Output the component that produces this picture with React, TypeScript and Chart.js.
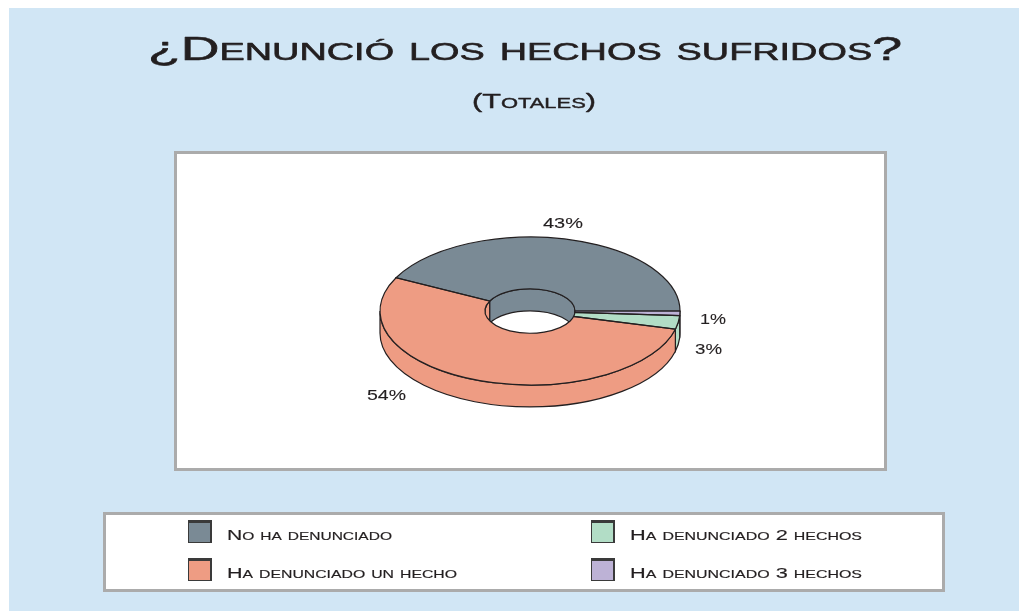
import React, { useEffect, useRef } from "react";
import { Chart, registerables } from "chart.js";

Chart.register(...registerables);

const categories = [
  "No ha denunciado",
  "Ha denunciado un hecho",
  "Ha denunciado 2 hechos",
  "Ha denunciado 3 hechos",
];
const values = [43, 54, 3, 1];
const colors = ["#7A8A95", "#EE9C83", "#B2DDC6", "#BDB2D6"];
const titleText = "¿Denunció los hechos sufridos?";
const subtitleText = "(Totales)";

const INK = "#231F20";
const SQUASH = 0.493;
const DEPTH = 22;
const FONT = '"Liberation Sans"';

type Txt = { left: number; base: number; size: number; width: number; bold?: number };
const TITLE_BOX: Txt = { left: 148, base: 60, size: 34, width: 754, bold: 0.6 };
const SUB_BOX: Txt = { left: 472, base: 108, size: 21, width: 124, bold: 0.4 };
const VALUE_BOXES: Txt[] = [
  { left: 543, base: 228, size: 15, width: 40, bold: 0.1 },
  { left: 367, base: 400, size: 15, width: 39, bold: 0.1 },
  { left: 695, base: 354, size: 15, width: 27, bold: 0.1 },
  { left: 700, base: 324, size: 15, width: 26, bold: 0.1 },
];
const LEGEND_X = [188, 188, 591, 591];
const LEGEND_Y = [520, 558, 520, 558];
const LEGEND_TEXT: Txt[] = [
  { left: 227, base: 540, size: 15, width: 165, bold: 0.15 },
  { left: 227, base: 578, size: 15, width: 230, bold: 0.15 },
  { left: 630, base: 540, size: 15, width: 232, bold: 0.15 },
  { left: 630, base: 578, size: 15, width: 232, bold: 0.15 },
];

function drawText(ctx: CanvasRenderingContext2D, text: string, b: Txt) {
  ctx.save();
  ctx.font = `small-caps 400 ${b.size}px ${FONT}`;
  ctx.fillStyle = INK;
  ctx.strokeStyle = INK;
  ctx.lineJoin = "round";
  ctx.textAlign = "left";
  ctx.textBaseline = "alphabetic";
  const w = ctx.measureText(text).width;
  ctx.translate(b.left, b.base);
  ctx.scale(b.width / w, 1);
  ctx.fillText(text, 0, 0);
  if (b.bold) {
    ctx.lineWidth = b.bold;
    ctx.strokeText(text, 0, 0);
  }
  ctx.restore();
}

function panel(ctx: CanvasRenderingContext2D, x0: number, y0: number, x1: number, y1: number) {
  ctx.fillStyle = "#FFFFFF";
  ctx.fillRect(x0, y0, x1 - x0, y1 - y0);
  ctx.strokeStyle = "#ABABAB";
  ctx.lineWidth = 3;
  ctx.strokeRect(x0 + 1.5, y0 + 1.5, x1 - x0 - 3, y1 - y0 - 3);
}

const scene = {
  id: "scene",
  beforeDraw(chart: any) {
    const ctx: CanvasRenderingContext2D = chart.ctx;
    ctx.save();
    ctx.fillStyle = "#FFFFFF";
    ctx.fillRect(0, 0, chart.width, chart.height);
    ctx.fillStyle = "#D1E6F5";
    ctx.fillRect(9, 8, 1010, 603);
    panel(ctx, 174, 151, 887, 471);
    panel(ctx, 103, 512, 945, 592);
    ctx.restore();
  },
  beforeDatasetsDraw(chart: any) {
    const ctx: CanvasRenderingContext2D = chart.ctx;
    const arcs = chart.getDatasetMeta(0).data;
    ctx.save();
    ctx.strokeStyle = INK;
    ctx.lineWidth = 1.2;
    arcs.forEach((arc: any, i: number) => {
      const { x, y, startAngle, endAngle, outerRadius, innerRadius } = arc;
      const color = chart.data.datasets[0].backgroundColor[i];
      const a = Math.max(startAngle, 0);
      const b = Math.min(endAngle, Math.PI);
      if (b > a) {
        ctx.beginPath();
        ctx.ellipse(x, y, outerRadius, outerRadius * SQUASH, 0, a, b, false);
        ctx.ellipse(x, y + DEPTH, outerRadius, outerRadius * SQUASH, 0, b, a, true);
        ctx.closePath();
        ctx.fillStyle = color;
        ctx.fill();
        ctx.stroke();
      }
      const c = Math.max(startAngle, Math.PI);
      const d = Math.min(endAngle, 2 * Math.PI);
      if (d > c) {
        ctx.beginPath();
        ctx.ellipse(x, y, innerRadius, innerRadius * SQUASH, 0, c, d, false);
        ctx.ellipse(x, y + DEPTH, innerRadius, innerRadius * SQUASH, 0, d, c, true);
        ctx.closePath();
        ctx.fillStyle = color;
        ctx.fill();
        ctx.stroke();
      }
    });
    ctx.restore();
    const first = arcs[0];
    ctx.save();
    ctx.translate(first.x, first.y);
    ctx.scale(1, SQUASH);
    ctx.translate(-first.x, -first.y);
  },
  afterDatasetsDraw(chart: any) {
    const ctx: CanvasRenderingContext2D = chart.ctx;
    ctx.restore();
    const arcs = chart.getDatasetMeta(0).data;
    ctx.save();
    ctx.strokeStyle = INK;
    ctx.lineWidth = 1.2;
    arcs.forEach((arc: any) => {
      const { x, y, startAngle, endAngle, outerRadius, innerRadius } = arc;
      ctx.beginPath();
      ctx.ellipse(x, y, outerRadius, outerRadius * SQUASH, 0, startAngle, endAngle, false);
      ctx.ellipse(x, y, innerRadius, innerRadius * SQUASH, 0, endAngle, startAngle, true);
      ctx.closePath();
      ctx.stroke();
    });
    ctx.restore();
  },
  afterDraw(chart: any) {
    const ctx: CanvasRenderingContext2D = chart.ctx;
    drawText(ctx, titleText, TITLE_BOX);
    drawText(ctx, subtitleText, SUB_BOX);
    values.forEach((v, i) => drawText(ctx, `${v}%`, VALUE_BOXES[i]));
    categories.forEach((label, i) => {
      const x = LEGEND_X[i];
      const y = LEGEND_Y[i];
      ctx.fillStyle = "#3A3A3A";
      ctx.fillRect(x, y, 24, 23);
      ctx.fillStyle = colors[i];
      ctx.fillRect(x + 1, y + 3, 21, 19);
      drawText(ctx, label, LEGEND_TEXT[i]);
    });
  },
};

export default function App() {
  const ref = useRef<HTMLCanvasElement | null>(null);
  useEffect(() => {
    if (!ref.current) return;
    const chart = new Chart(ref.current, {
      type: "doughnut",
      data: {
        labels: [...categories].reverse(),
        datasets: [
          {
            data: [...values].reverse(),
            backgroundColor: [...colors].reverse(),
            borderWidth: 0,
            clip: false,
          } as any,
        ],
      },
      options: {
        animation: false,
        responsive: false,
        events: [],
        rotation: 90,
        radius: 150,
        cutout: 45,
        layout: { padding: { left: 380, right: 339, top: 161, bottom: 150 } },
        plugins: { legend: { display: false }, title: { display: false }, tooltip: { enabled: false } },
      } as any,
      plugins: [scene],
    });
    return () => chart.destroy();
  }, []);
  return (
    <div style={{ position: "fixed", left: 0, top: 0, width: 1019, height: 611 }}>
      <canvas ref={ref} width={1019} height={611} style={{ display: "block" }} />
    </div>
  );
}
